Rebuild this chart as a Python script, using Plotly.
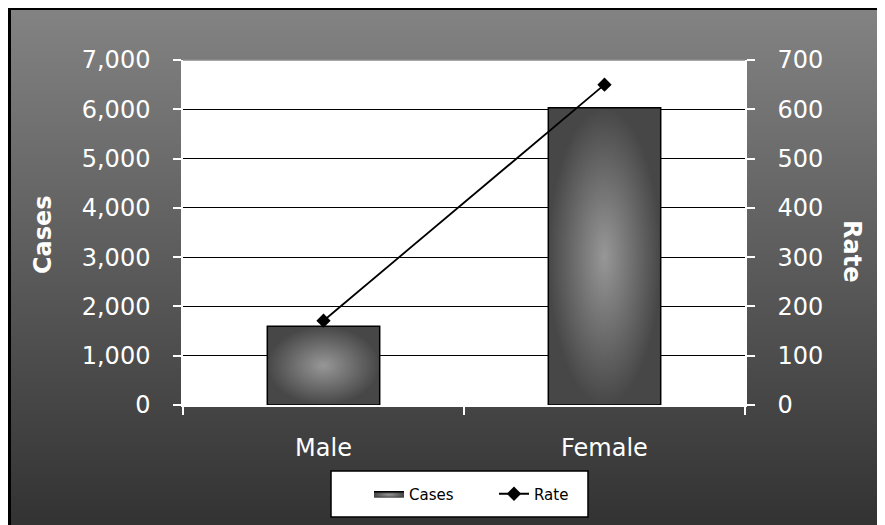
import base64
import plotly.graph_objects as go

# data
categories = ["Male", "Female"]
cases = [1600, 6030]
rates = [171, 650]
cases_ticks = list(range(0, 7001, 1000))
rate_ticks = list(range(0, 701, 100))

FONT = "DejaVu Sans"
BAR_W = 0.4

# page pixels of the plot area; the page body adds an 8px offset
OFF = 8
L, R, T, B = 183, 745, 60, 405
PW, PH = R - L, B - T


def px_x(p):
    return (p - L) / PW


def px_y(p):
    return (B - p) / PH


# gray gradient chart background with black frame (svg as data uri)
bg_w, bg_h = 900, 540
svg = f"""<svg xmlns='http://www.w3.org/2000/svg' width='{bg_w}' height='{bg_h}' viewBox='0 0 {bg_w} {bg_h}' preserveAspectRatio='none'>
<defs><linearGradient id='g' x1='0' y1='0' x2='0' y2='1'>
<stop offset='0' stop-color='#838383'/><stop offset='1' stop-color='#2d2d2d'/></linearGradient></defs>
<rect x='1.5' y='1.5' width='{bg_w + 10}' height='{bg_h + 10}' fill='url(#g)' stroke='#000' stroke-width='3'/>
</svg>"""
bg_src = "data:image/svg+xml;base64," + base64.b64encode(svg.encode()).decode()

fig = go.Figure()

# bars for Cases, with a center-out gradient fill
for i, (cat, v) in enumerate(zip(categories, cases)):
    x0, x1 = i - BAR_W / 2, i + BAR_W / 2
    fig.add_trace(go.Scatter(
        x=[x0, x1, x1, x0, x0], y=[0, 0, v, v, 0], mode="lines", fill="toself",
        fillgradient=dict(type="radial", colorscale=[[0, "#979797"], [1, "#474747"]]),
        line=dict(color="black", width=1.5), name="Cases", legendgroup="cases",
        showlegend=(i == 0), hoverinfo="skip"))

# Rate line
fig.add_trace(go.Scatter(
    x=list(range(len(categories))), y=rates, yaxis="y2", name="Rate", mode="lines+markers",
    line=dict(color="black", width=1.8), marker=dict(symbol="diamond", size=11, color="black")))

fig.update_layout(
    width=885, height=525,
    margin=dict(l=L - OFF, r=885 - (R - OFF), t=T - OFF, b=525 - (B - OFF)),
    paper_bgcolor="white", plot_bgcolor="rgba(0,0,0,0)",
    font=dict(family=FONT, color="white", size=24),
    showlegend=True,
    legend=dict(orientation="h", x=px_x(369), xanchor="left", y=px_y(494), yanchor="middle",
                bgcolor="rgba(0,0,0,0)", borderwidth=0, entrywidth=80, entrywidthmode="pixels",
                font=dict(family=FONT, size=15, color="black")),
    xaxis=dict(range=[-0.5, 1.5], tickvals=[0, 1], ticktext=categories, ticks="",
               showline=True, linecolor="white", linewidth=1.5, showgrid=False, zeroline=False,
               ticklabelstandoff=20, fixedrange=True,
               minor=dict(tickmode="array", tickvals=[-0.5, 0.5, 1.5], ticks="outside",
                          ticklen=8, tickwidth=1.5, tickcolor="white", showgrid=False)),
    yaxis=dict(range=[0, 7000], tickvals=cases_ticks, tickformat=",d", ticks="outside",
               ticklen=8, tickwidth=1.5, tickcolor="white", showline=True, linecolor="white",
               linewidth=1.5, showgrid=True, gridcolor="black", gridwidth=1, zeroline=False,
               ticklabelstandoff=18),
    yaxis2=dict(range=[0, 700], tickvals=rate_ticks, overlaying="y", side="right",
                ticks="outside", ticklen=8, tickwidth=1.5, tickcolor="white",
                showline=True, linecolor="white", linewidth=1.5, showgrid=False,
                zeroline=False, ticklabelstandoff=18),
    images=[dict(source=bg_src, xref="paper", yref="paper", x=px_x(8), y=px_y(7),
                 sizex=bg_w / PW, sizey=bg_h / PH, xanchor="left", yanchor="top",
                 sizing="stretch", layer="below")],
    shapes=[
        dict(type="rect", xref="paper", yref="paper", x0=0, x1=1, y0=0, y1=1,
             fillcolor="white", line=dict(width=0), layer="below"),
        dict(type="line", xref="paper", yref="paper", x0=0, x1=1, y0=1, y1=1,
             line=dict(color="#8a8a8a", width=1.5), layer="above"),
        # legend frame
        dict(type="rect", xref="paper", yref="paper", x0=px_x(331), x1=px_x(588),
             y0=px_y(517), y1=px_y(471), fillcolor="white",
             line=dict(color="black", width=1.5), layer="above"),
    ],
    annotations=[
        dict(text="<b>Cases</b>", xref="paper", yref="paper", x=px_x(43), y=px_y(235),
             xanchor="center", yanchor="middle", showarrow=False, textangle=-90,
             font=dict(family=FONT, size=24, color="white")),
        dict(text="<b>Rate</b>", xref="paper", yref="paper", x=px_x(852), y=px_y(251),
             xanchor="center", yanchor="middle", showarrow=False, textangle=90,
             font=dict(family=FONT, size=24, color="white")),
    ],
)

fig.write_html("out.html")
